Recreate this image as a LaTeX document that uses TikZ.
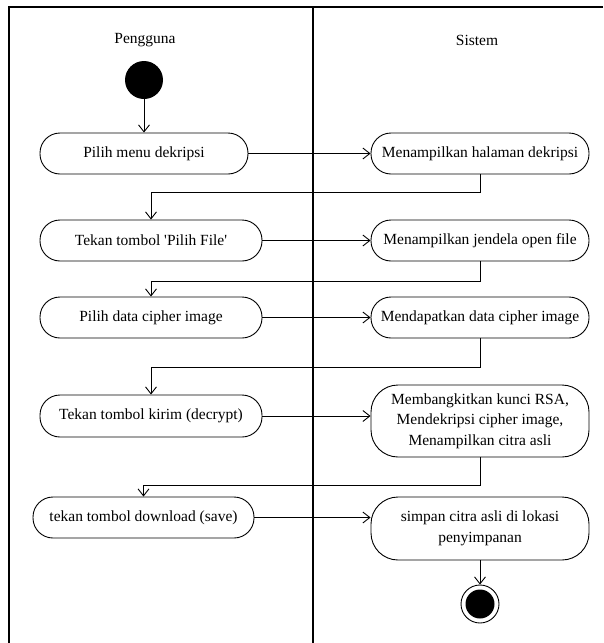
\documentclass[tikz,border=0pt]{standalone}
\usepackage{fontspec}
\setmainfont{Liberation Serif}
\newfontfamily\tnr{Liberation Serif}
\usetikzlibrary{arrows.meta}
\begin{document}
\begin{tikzpicture}[x=1pt,y=-1pt,
  act/.style={draw, rounded corners=20pt, inner sep=0pt, align=center,
    font=\tnr\fontsize{15.5}{20.5}\selectfont, line width=0.9pt, minimum height=41pt},
  lwide/.style={minimum width=222pt},
  swide/.style={minimum width=218pt},
  big/.style={rounded corners=27pt},
  flow/.style={-{Straight Barb[length=7pt,width=11pt]}, line width=0.9pt},
  lane/.style={line width=1.6pt},
  lanetitle/.style={font=\tnr\fontsize{15.5}{18}\selectfont}]
\useasboundingbox (0,0) rectangle (603,643);
% swimlanes
\draw[lane] (603,7) -- (9,7) -- (9,643);
\draw[lane] (313,7) -- (313,643);
\node[lanetitle] (tp) at (145,40) {Pengguna};
\node[lanetitle] (ts) at (477,40) {Sistem};
% start
\node[circle, fill=black, minimum size=38pt, inner sep=0pt] (start) at (144,80) {};
% user actions
\node[act, minimum width=208pt] (n1) at (144,153.5) {Pilih menu dekripsi};
\node[act, lwide] (n2) at (151,240.5) {Tekan tombol \textquotesingle Pilih File\textquotesingle};
\node[act, lwide] (n3) at (151,317.5) {Pilih data cipher image};
\node[act, lwide, minimum height=42pt] (n4) at (151,416) {Tekan tombol kirim (decrypt)};
\node[act, minimum width=221pt] (n5) at (143.5,517.5) {tekan tombol download (save)};
% system actions
\node[act, swide] (s1) at (480,153.5) {Menampilkan halaman dekripsi};
\node[act, swide] (s2) at (480,240.5) {Menampilkan jendela open file};
\node[act, swide] (s3) at (480,317.5) {Mendapatkan data cipher image};
\node[act, swide, big, minimum height=72pt] (s4) at (480,421) {Membangkitkan kunci RSA,\\Mendekripsi cipher image,\\Menampilkan citra asli};
\node[act, swide, big, minimum height=63pt] (s5) at (480,528.5) {simpan citra asli di lokasi\\penyimpanan};
% end
\node[circle, draw, line width=0.9pt, minimum size=38pt, inner sep=0pt] (fin) at (480,604) {};
\node[circle, fill=black, minimum size=29pt, inner sep=0pt] (finin) at (fin) {};
% flows
\draw[flow] (start) -- (n1);
\draw[flow] (n1) -- (s1);
\draw[flow] (s1.south) -- ++(0,18) -| (n2.north);
\draw[flow] (n2) -- (s2);
\draw[flow] (s2.south) -- ++(0,20) -| (n3.north);
\draw[flow] (n3) -- (s3);
\draw[flow] (s3.south) -- ++(0,29) -| (n4.north);
\draw[flow] (n4.east) -- (n4.east -| s4.west);
\draw[flow] (s4.south) -- ++(0,28) -| (n5.north);
\draw[flow] (n5.east) -- (n5.east -| s5.west);
\draw[flow] (s5) -- (fin);
\end{tikzpicture}
\end{document}
